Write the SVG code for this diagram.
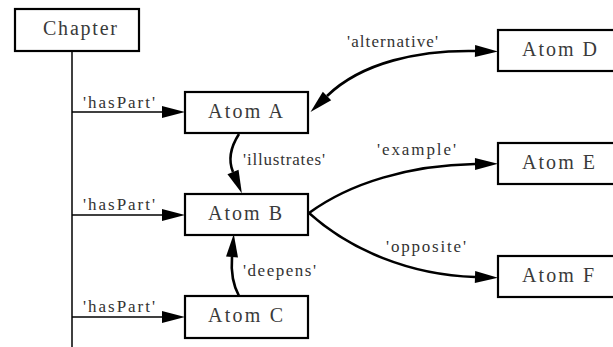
<svg xmlns="http://www.w3.org/2000/svg" width="613" height="347" viewBox="0 0 613 347">
<style>
  .box { fill: #fff; stroke: #000; stroke-width: 2.2; }
  .nt { font-family: 'Liberation Serif', 'Times New Roman', serif; font-size: 20px; fill: #3a3a3a; }
  .lt { font-family: 'Liberation Serif', 'Times New Roman', serif; font-size: 17px; fill: #333; }
  .thin { fill: none; stroke: #000; stroke-width: 1.5; }
  .thick { fill: none; stroke: #000; stroke-width: 2.6; }
</style>
<defs>
  <marker id="ah" markerUnits="userSpaceOnUse" markerWidth="26" markerHeight="14" refX="0" refY="6.5" orient="auto-start-reverse" overflow="visible">
    <path d="M0,0.5 L23,6.5 L0,12.5 Z" fill="#000"/>
  </marker>
</defs>
<rect width="613" height="347" fill="#fff"/>
<g id="connectors">
  <path class="thin" d="M72,51 V347"/>
  <path class="thin" d="M72,112 H162" marker-end="url(#ah)"/>
  <path class="thin" d="M72,215 H162" marker-end="url(#ah)"/>
  <path class="thin" d="M72,317 H162" marker-end="url(#ah)"/>
  <path class="thick" d="M475,51 C420,50 362,62 327,96" marker-start="url(#ah)" marker-end="url(#ah)"/>
  <path class="thick" d="M239,134 C230,148 228,160 233,172" marker-end="url(#ah)"/>
  <path class="thick" d="M239,296 C233,285 231,270 232,257" marker-end="url(#ah)"/>
  <path class="thick" d="M309,213 C350,183 410,165 475,164" marker-end="url(#ah)"/>
  <path class="thick" d="M309,213 C350,250 410,275 475,277" marker-end="url(#ah)"/>
  <text class="lt" x="83" y="108" textLength="72" lengthAdjust="spacing">'hasPart'</text>
  <text class="lt" x="83" y="210" textLength="72" lengthAdjust="spacing">'hasPart'</text>
  <text class="lt" x="83" y="312" textLength="72" lengthAdjust="spacing">'hasPart'</text>
  <text class="lt" x="243" y="165" textLength="82" lengthAdjust="spacing">'illustrates'</text>
  <text class="lt" x="243" y="276" textLength="73" lengthAdjust="spacing">'deepens'</text>
  <text class="lt" x="347" y="47" textLength="91" lengthAdjust="spacing">'alternative'</text>
  <text class="lt" x="377" y="155" textLength="79" lengthAdjust="spacing">'example'</text>
  <text class="lt" x="386" y="252" textLength="80" lengthAdjust="spacing">'opposite'</text>
</g>
<g id="chapter">
  <rect class="box" x="15" y="9" width="124" height="42"/>
  <text class="nt" x="43" y="35" textLength="74" lengthAdjust="spacing">Chapter</text>
</g>
<g id="atomA">
  <rect class="box" x="185" y="92" width="123" height="41"/>
  <text class="nt" x="208" y="118" textLength="75" lengthAdjust="spacing">Atom A</text>
</g>
<g id="atomB">
  <rect class="box" x="185" y="194" width="123" height="41"/>
  <text class="nt" x="208" y="220" textLength="74" lengthAdjust="spacing">Atom B</text>
</g>
<g id="atomC">
  <rect class="box" x="185" y="296" width="123" height="42"/>
  <text class="nt" x="208" y="322" textLength="75" lengthAdjust="spacing">Atom C</text>
</g>
<g id="atomD">
  <rect class="box" x="498" y="30" width="120" height="41"/>
  <text class="nt" x="522" y="55.5" textLength="75" lengthAdjust="spacing">Atom D</text>
</g>
<g id="atomE">
  <rect class="box" x="498" y="143" width="120" height="41"/>
  <text class="nt" x="522" y="168.5" textLength="73" lengthAdjust="spacing">Atom E</text>
</g>
<g id="atomF">
  <rect class="box" x="498" y="256" width="120" height="41"/>
  <text class="nt" x="522" y="281.5" textLength="72" lengthAdjust="spacing">Atom F</text>
</g>
</svg>
